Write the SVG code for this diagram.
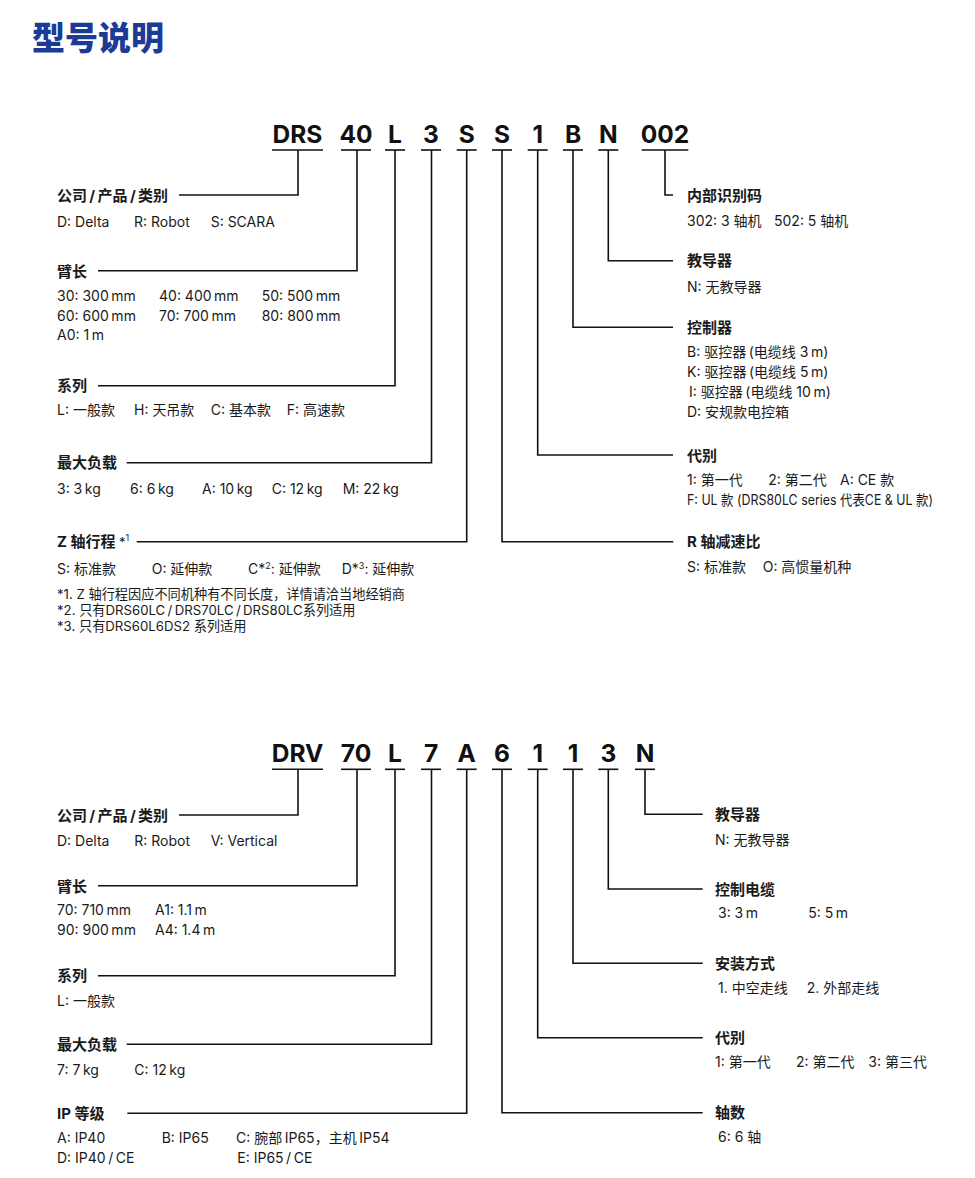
<svg xmlns="http://www.w3.org/2000/svg" width="975" height="1178" viewBox="0 0 975 1178">
<style>
text{font-family:"Inter","Noto Sans CJK SC","Noto Sans",sans-serif;fill:#1a1a1a}
.title{font-size:33px;font-weight:900;fill:#1b3b97}
.code{font-size:24.5px;font-weight:700;text-anchor:middle;fill:#111}
.lab{font-size:15px;font-weight:700}
.desc{font-size:14px}
.fn{font-size:13.2px}
.sup{font-size:9px}
.ln{fill:none;stroke:#111;stroke-width:1.6}
</style>
<rect width="975" height="1178" fill="#fff"/>
<text class="title" x="32" y="50">型号说明</text>

<!-- Top code row -->
<g id="code-top">
<text class="code" x="297.5" y="143">DRS</text>
<text class="code" x="356" y="143">40</text>
<text class="code" x="395" y="143">L</text>
<text class="code" x="431" y="143">3</text>
<text class="code" x="466.7" y="143">S</text>
<text class="code" x="502" y="143">S</text>
<text class="code" x="537.7" y="143">1</text>
<text class="code" x="573" y="143">B</text>
<text class="code" x="608.3" y="143">N</text>
<text class="code" x="665" y="143">002</text>
</g>

<g id="connectors-top" class="ln">
<line x1="272" y1="150" x2="323" y2="150"/>
<line x1="341" y1="150" x2="371" y2="150"/>
<line x1="385" y1="150" x2="405" y2="150"/>
<line x1="421" y1="150" x2="441" y2="150"/>
<line x1="456.7" y1="150" x2="476.7" y2="150"/>
<line x1="492" y1="150" x2="512" y2="150"/>
<line x1="527.7" y1="150" x2="547.7" y2="150"/>
<line x1="563" y1="150" x2="583" y2="150"/>
<line x1="598.3" y1="150" x2="618.3" y2="150"/>
<line x1="641.7" y1="150" x2="688.3" y2="150"/>
<polyline points="298,150 298,195 179,195"/>
<polyline points="357,150 357,270.7 98,270.7"/>
<polyline points="395,150 395,385.7 98,385.7"/>
<polyline points="431.5,150 431.5,462.7 126.7,462.7"/>
<polyline points="466.7,150 466.7,541.7 136.7,541.7"/>
<polyline points="502,150 502,541.7 673.3,541.7"/>
<polyline points="537.7,150 537.7,455 673,455"/>
<polyline points="573,150 573,327.3 673,327.3"/>
<polyline points="608.3,150 608.3,260.7 673,260.7"/>
<polyline points="665,150 665,195 673,195"/>
</g>

<g id="node-company-top">
<text class="lab" x="57" y="201">公司&#8201;/&#8201;产品&#8201;/&#8201;类别</text>
<text class="desc" y="226.5"><tspan x="57">D: Delta</tspan><tspan x="134">R: Robot</tspan><tspan x="210.7">S: SCARA</tspan></text>
</g>
<g id="node-arm-top">
<text class="lab" x="57" y="276.5">臂长</text>
<text class="desc" y="300.5"><tspan x="57">30: 300&#8201;mm</tspan><tspan x="159">40: 400&#8201;mm</tspan><tspan x="261.7">50: 500&#8201;mm</tspan></text>
<text class="desc" y="320.5"><tspan x="57">60: 600&#8201;mm</tspan><tspan x="159">70: 700&#8201;mm</tspan><tspan x="261.7">80: 800&#8201;mm</tspan></text>
<text class="desc" x="57" y="340.3">A0: 1&#8201;m</text>
</g>
<g id="node-series-top">
<text class="lab" x="57" y="391">系列</text>
<text class="desc" y="415"><tspan x="57">L: 一般款</tspan><tspan x="134">H: 天吊款</tspan><tspan x="210.7">C: 基本款</tspan><tspan x="286.7">F: 高速款</tspan></text>
</g>
<g id="node-payload-top">
<text class="lab" x="57" y="468">最大负载</text>
<text class="desc" y="493.5"><tspan x="57">3: 3&#8201;kg</tspan><tspan x="130">6: 6&#8201;kg</tspan><tspan x="202">A: 10&#8201;kg</tspan><tspan x="271.7">C: 12&#8201;kg</tspan><tspan x="342.7">M: 22&#8201;kg</tspan></text>
</g>
<g id="node-z-top">
<text class="lab" x="57" y="547">Z 轴行程 <tspan font-weight="400" font-size="13">*</tspan><tspan class="sup" dy="-6" font-weight="400">1</tspan></text>
<text class="desc" y="574"><tspan x="57">S: 标准款</tspan><tspan x="151.7">O: 延伸款</tspan><tspan x="248">C*</tspan><tspan class="sup" dy="-5">2</tspan><tspan dy="5">: 延伸款</tspan><tspan x="341.7">D*</tspan><tspan class="sup" dy="-5">3</tspan><tspan dy="5">: 延伸款</tspan></text>
<text class="fn" x="57" y="598.5">*1. Z 轴行程因应不同机种有不同长度，详情请洽当地经销商</text>
<text class="fn" x="57" y="614.5">*2. 只有DRS60LC&#8201;/&#8201;DRS70LC&#8201;/&#8201;DRS80LC系列适用</text>
<text class="fn" x="57" y="630.5">*3. 只有DRS60L6DS2 系列适用</text>
</g>

<g id="node-code-top">
<text class="lab" x="687" y="200.5">内部识别码</text>
<text class="desc" y="225.5"><tspan x="687">302: 3 轴机</tspan><tspan x="774">502: 5 轴机</tspan></text>
</g>
<g id="node-pendant-top">
<text class="lab" x="687" y="266">教导器</text>
<text class="desc" x="687" y="291.5">N: 无教导器</text>
</g>
<g id="node-controller-top">
<text class="lab" x="687" y="332.5">控制器</text>
<text class="desc" x="687" y="357">B: 驱控器&#8201;(电缆线 3&#8201;m)</text>
<text class="desc" x="687" y="377">K: 驱控器&#8201;(电缆线 5&#8201;m)</text>
<text class="desc" x="689" y="397">I: 驱控器&#8201;(电缆线 10&#8201;m)</text>
<text class="desc" x="687" y="417">D: 安规款电控箱</text>
</g>
<g id="node-gen-top">
<text class="lab" x="687" y="460.5">代别</text>
<text class="desc" y="485"><tspan x="687">1: 第一代</tspan><tspan x="768.3">2: 第二代</tspan><tspan x="840">A: CE 款</tspan></text>
<text class="desc" x="687" y="505" font-size="13" textLength="246" lengthAdjust="spacingAndGlyphs">F: UL 款 (DRS80LC series 代表CE &amp; UL 款)</text>
</g>
<g id="node-r-top">
<text class="lab" x="687" y="547">R 轴减速比</text>
<text class="desc" y="572"><tspan x="687">S: 标准款</tspan><tspan x="762.7">O: 高惯量机种</tspan></text>
</g>

<!-- Bottom code row -->
<g id="code-bottom">
<text class="code" x="297.5" y="762">DRV</text>
<text class="code" x="356" y="762">70</text>
<text class="code" x="395" y="762">L</text>
<text class="code" x="431" y="762">7</text>
<text class="code" x="466.7" y="762">A</text>
<text class="code" x="502" y="762">6</text>
<text class="code" x="537.7" y="762">1</text>
<text class="code" x="573" y="762">1</text>
<text class="code" x="608.3" y="762">3</text>
<text class="code" x="645" y="762">N</text>
</g>

<g id="connectors-bottom" class="ln">
<line x1="272" y1="769.3" x2="323" y2="769.3"/>
<line x1="341" y1="769.3" x2="371" y2="769.3"/>
<line x1="385" y1="769.3" x2="405" y2="769.3"/>
<line x1="421" y1="769.3" x2="441" y2="769.3"/>
<line x1="456.7" y1="769.3" x2="476.7" y2="769.3"/>
<line x1="492" y1="769.3" x2="512" y2="769.3"/>
<line x1="527.7" y1="769.3" x2="547.7" y2="769.3"/>
<line x1="563" y1="769.3" x2="583" y2="769.3"/>
<line x1="598.3" y1="769.3" x2="618.3" y2="769.3"/>
<line x1="635" y1="769.3" x2="655" y2="769.3"/>
<polyline points="298,769.3 298,815 179,815"/>
<polyline points="357,769.3 357,885.7 98,885.7"/>
<polyline points="395,769.3 395,975.7 98,975.7"/>
<polyline points="431.5,769.3 431.5,1044.3 126.7,1044.3"/>
<polyline points="466.7,769.3 466.7,1113.3 127.3,1113.3"/>
<polyline points="502,769.3 502,1112.7 702.7,1112.7"/>
<polyline points="537.7,769.3 537.7,1037.7 702.7,1037.7"/>
<polyline points="573,769.3 573,963.3 702.7,963.3"/>
<polyline points="608.3,769.3 608.3,889 702.7,889"/>
<polyline points="645,769.3 645,814.3 702.7,814.3"/>
</g>

<g id="node-company-bottom">
<text class="lab" x="57" y="821">公司&#8201;/&#8201;产品&#8201;/&#8201;类别</text>
<text class="desc" y="845.5"><tspan x="57">D: Delta</tspan><tspan x="134.3">R: Robot</tspan><tspan x="210.7">V: Vertical</tspan></text>
</g>
<g id="node-arm-bottom">
<text class="lab" x="57" y="891.5">臂长</text>
<text class="desc" y="915"><tspan x="57">70: 710&#8201;mm</tspan><tspan x="155">A1: 1.1&#8201;m</tspan></text>
<text class="desc" y="934.5"><tspan x="57">90: 900&#8201;mm</tspan><tspan x="155">A4: 1.4&#8201;m</tspan></text>
</g>
<g id="node-series-bottom">
<text class="lab" x="57" y="981">系列</text>
<text class="desc" x="57" y="1006">L: 一般款</text>
</g>
<g id="node-payload-bottom">
<text class="lab" x="57" y="1050">最大负载</text>
<text class="desc" y="1075"><tspan x="57">7: 7&#8201;kg</tspan><tspan x="134.3">C: 12&#8201;kg</tspan></text>
</g>
<g id="node-ip-bottom">
<text class="lab" x="57" y="1119">IP 等级</text>
<text class="desc" y="1142.7"><tspan x="57">A: IP40</tspan><tspan x="161.7">B: IP65</tspan><tspan x="236">C: 腕部&#8201;IP65，主机&#8201;IP54</tspan></text>
<text class="desc" y="1163"><tspan x="57">D: IP40&#8201;/&#8201;CE</tspan><tspan x="237.3">E: IP65&#8201;/&#8201;CE</tspan></text>
</g>

<g id="node-pendant-bottom">
<text class="lab" x="715" y="820">教导器</text>
<text class="desc" x="715" y="845">N: 无教导器</text>
</g>
<g id="node-cable-bottom">
<text class="lab" x="715" y="894.5">控制电缆</text>
<text class="desc" y="917.5"><tspan x="718">3: 3&#8201;m</tspan><tspan x="808.3">5: 5&#8201;m</tspan></text>
</g>
<g id="node-install-bottom">
<text class="lab" x="715" y="969">安装方式</text>
<text class="desc" y="992.5"><tspan x="718">1. 中空走线</tspan><tspan x="806.7">2. 外部走线</tspan></text>
</g>
<g id="node-gen-bottom">
<text class="lab" x="715" y="1043">代别</text>
<text class="desc" y="1066.7"><tspan x="715">1: 第一代</tspan><tspan x="796">2: 第二代</tspan><tspan x="868.3">3: 第三代</tspan></text>
</g>
<g id="node-axes-bottom">
<text class="lab" x="715" y="1118">轴数</text>
<text class="desc" x="718" y="1141.7">6: 6 轴</text>
</g>
</svg>
